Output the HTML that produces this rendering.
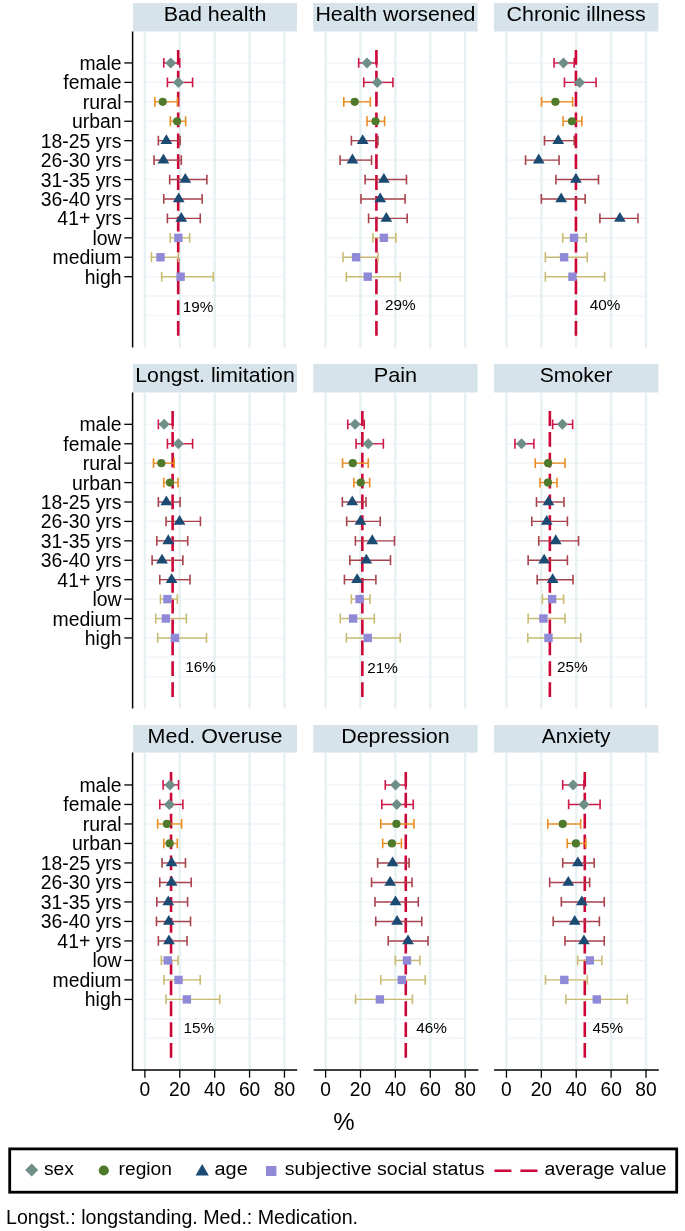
<!DOCTYPE html><html><head><meta charset="utf-8"><style>html,body{margin:0;padding:0;background:#fff;}svg{display:block;will-change:transform;}text{font-family:"Liberation Sans",sans-serif;fill:#000;}</style></head><body>
<svg width="685" height="1231" viewBox="0 0 685 1231">
<rect x="0" y="0" width="685" height="1231" fill="#fff"/>
<rect x="133" y="3.1" width="164" height="28.4" fill="#d7e3ea"/>
<text transform="translate(215 21) scale(1.053 1)" text-anchor="middle" font-size="20.4">Bad health</text>
<line x1="144.9" y1="62.96" x2="284.46" y2="62.96" stroke="#f1f6f7" stroke-width="1.6"/>
<line x1="144.9" y1="82.39" x2="284.46" y2="82.39" stroke="#f1f6f7" stroke-width="1.6"/>
<line x1="144.9" y1="101.82" x2="284.46" y2="101.82" stroke="#f1f6f7" stroke-width="1.6"/>
<line x1="144.9" y1="121.25" x2="284.46" y2="121.25" stroke="#f1f6f7" stroke-width="1.6"/>
<line x1="144.9" y1="140.68" x2="284.46" y2="140.68" stroke="#f1f6f7" stroke-width="1.6"/>
<line x1="144.9" y1="160.11" x2="284.46" y2="160.11" stroke="#f1f6f7" stroke-width="1.6"/>
<line x1="144.9" y1="179.54" x2="284.46" y2="179.54" stroke="#f1f6f7" stroke-width="1.6"/>
<line x1="144.9" y1="198.97" x2="284.46" y2="198.97" stroke="#f1f6f7" stroke-width="1.6"/>
<line x1="144.9" y1="218.4" x2="284.46" y2="218.4" stroke="#f1f6f7" stroke-width="1.6"/>
<line x1="144.9" y1="237.83" x2="284.46" y2="237.83" stroke="#f1f6f7" stroke-width="1.6"/>
<line x1="144.9" y1="257.26" x2="284.46" y2="257.26" stroke="#f1f6f7" stroke-width="1.6"/>
<line x1="144.9" y1="276.69" x2="284.46" y2="276.69" stroke="#f1f6f7" stroke-width="1.6"/>
<line x1="144.9" y1="296.12" x2="284.46" y2="296.12" stroke="#f1f6f7" stroke-width="1.6"/>
<line x1="144.9" y1="315.55" x2="284.46" y2="315.55" stroke="#f1f6f7" stroke-width="1.6"/>
<line x1="144.9" y1="31.5" x2="144.9" y2="347.6" stroke="#e7f0f2" stroke-width="2.4"/>
<line x1="179.79" y1="31.5" x2="179.79" y2="347.6" stroke="#e7f0f2" stroke-width="2.4"/>
<line x1="214.68" y1="31.5" x2="214.68" y2="347.6" stroke="#e7f0f2" stroke-width="2.4"/>
<line x1="249.57" y1="31.5" x2="249.57" y2="347.6" stroke="#e7f0f2" stroke-width="2.4"/>
<line x1="284.46" y1="31.5" x2="284.46" y2="347.6" stroke="#e7f0f2" stroke-width="2.4"/>
<line x1="178.19" y1="50" x2="178.19" y2="336" stroke="#cc0738" stroke-width="2.6" stroke-dasharray="14.8 6.05"/>
<line x1="132.6" y1="31.5" x2="132.6" y2="347.6" stroke="#000" stroke-width="1.5"/>
<line x1="124.3" y1="62.96" x2="132.6" y2="62.96" stroke="#000" stroke-width="1.3"/>
<text x="121.5" y="69.96" text-anchor="end" font-size="19.4">male</text>
<line x1="124.3" y1="82.39" x2="132.6" y2="82.39" stroke="#000" stroke-width="1.3"/>
<text x="121.5" y="89.39" text-anchor="end" font-size="19.4">female</text>
<line x1="124.3" y1="101.82" x2="132.6" y2="101.82" stroke="#000" stroke-width="1.3"/>
<text x="121.5" y="108.82" text-anchor="end" font-size="19.4">rural</text>
<line x1="124.3" y1="121.25" x2="132.6" y2="121.25" stroke="#000" stroke-width="1.3"/>
<text x="121.5" y="128.25" text-anchor="end" font-size="19.4">urban</text>
<line x1="124.3" y1="140.68" x2="132.6" y2="140.68" stroke="#000" stroke-width="1.3"/>
<text x="121.5" y="147.68" text-anchor="end" font-size="19.4">18-25 yrs</text>
<line x1="124.3" y1="160.11" x2="132.6" y2="160.11" stroke="#000" stroke-width="1.3"/>
<text x="121.5" y="167.11" text-anchor="end" font-size="19.4">26-30 yrs</text>
<line x1="124.3" y1="179.54" x2="132.6" y2="179.54" stroke="#000" stroke-width="1.3"/>
<text x="121.5" y="186.54" text-anchor="end" font-size="19.4">31-35 yrs</text>
<line x1="124.3" y1="198.97" x2="132.6" y2="198.97" stroke="#000" stroke-width="1.3"/>
<text x="121.5" y="205.97" text-anchor="end" font-size="19.4">36-40 yrs</text>
<line x1="124.3" y1="218.4" x2="132.6" y2="218.4" stroke="#000" stroke-width="1.3"/>
<text x="121.5" y="225.4" text-anchor="end" font-size="19.4">41+ yrs</text>
<line x1="124.3" y1="237.83" x2="132.6" y2="237.83" stroke="#000" stroke-width="1.3"/>
<text x="121.5" y="244.83" text-anchor="end" font-size="19.4">low</text>
<line x1="124.3" y1="257.26" x2="132.6" y2="257.26" stroke="#000" stroke-width="1.3"/>
<text x="121.5" y="264.26" text-anchor="end" font-size="19.4">medium</text>
<line x1="124.3" y1="276.69" x2="132.6" y2="276.69" stroke="#000" stroke-width="1.3"/>
<text x="121.5" y="283.69" text-anchor="end" font-size="19.4">high</text>
<path d="M163.76 62.96H179.75" stroke="#cf1747" stroke-width="1.4" fill="none"/>
<path d="M163.76 58.06V67.86M179.75 58.06V67.86" stroke="#cf1747" stroke-width="1.6" fill="none"/>
<path d="M167.41 82.39H192.61" stroke="#cf1747" stroke-width="1.4" fill="none"/>
<path d="M167.41 77.49V87.29M192.61 77.49V87.29" stroke="#cf1747" stroke-width="1.6" fill="none"/>
<path d="M154.9 101.82H177.49" stroke="#eb8c23" stroke-width="1.4" fill="none"/>
<path d="M154.9 96.92V106.72M177.49 96.92V106.72" stroke="#eb8c23" stroke-width="1.6" fill="none"/>
<path d="M170.37 121.25H185.66" stroke="#eb8c23" stroke-width="1.4" fill="none"/>
<path d="M170.37 116.35V126.15M185.66 116.35V126.15" stroke="#eb8c23" stroke-width="1.6" fill="none"/>
<path d="M158.38 140.68H180.1" stroke="#a8434d" stroke-width="1.4" fill="none"/>
<path d="M158.38 135.78V145.58M180.1 135.78V145.58" stroke="#a8434d" stroke-width="1.6" fill="none"/>
<path d="M154.03 160.11H181.31" stroke="#a8434d" stroke-width="1.4" fill="none"/>
<path d="M154.03 155.21V165.01M181.31 155.21V165.01" stroke="#a8434d" stroke-width="1.6" fill="none"/>
<path d="M169.67 179.54H206.86" stroke="#a8434d" stroke-width="1.4" fill="none"/>
<path d="M169.67 174.64V184.44M206.86 174.64V184.44" stroke="#a8434d" stroke-width="1.6" fill="none"/>
<path d="M163.76 198.97H202.16" stroke="#a8434d" stroke-width="1.4" fill="none"/>
<path d="M163.76 194.07V203.87M202.16 194.07V203.87" stroke="#a8434d" stroke-width="1.6" fill="none"/>
<path d="M167.41 218.4H200.25" stroke="#a8434d" stroke-width="1.4" fill="none"/>
<path d="M167.41 213.5V223.3M200.25 213.5V223.3" stroke="#a8434d" stroke-width="1.6" fill="none"/>
<path d="M170.19 237.83H189.65" stroke="#c9bc72" stroke-width="1.4" fill="none"/>
<path d="M170.19 232.93V242.73M189.65 232.93V242.73" stroke="#c9bc72" stroke-width="1.6" fill="none"/>
<path d="M151.43 257.26H178.36" stroke="#c9bc72" stroke-width="1.4" fill="none"/>
<path d="M151.43 252.36V262.16M178.36 252.36V262.16" stroke="#c9bc72" stroke-width="1.6" fill="none"/>
<path d="M161.68 276.69H213.28" stroke="#c9bc72" stroke-width="1.4" fill="none"/>
<path d="M161.68 271.79V281.59M213.28 271.79V281.59" stroke="#c9bc72" stroke-width="1.6" fill="none"/>
<path d="M170.72 57.46L176.22 62.96L170.72 68.46L165.22 62.96Z" fill="#6f8e88"/>
<path d="M178.36 76.89L183.86 82.39L178.36 87.89L172.86 82.39Z" fill="#6f8e88"/>
<circle cx="162.72" cy="101.82" r="4.1" fill="#4f7a2c"/>
<circle cx="177.14" cy="121.25" r="4.1" fill="#4f7a2c"/>
<path d="M166.37 134.18L172.27 143.98L160.47 143.98Z" fill="#1b4a73"/>
<path d="M163.42 153.61L169.32 163.41L157.52 163.41Z" fill="#1b4a73"/>
<path d="M185.31 173.04L191.21 182.84L179.41 182.84Z" fill="#1b4a73"/>
<path d="M178.71 192.47L184.61 202.27L172.81 202.27Z" fill="#1b4a73"/>
<path d="M181.31 211.9L187.21 221.7L175.41 221.7Z" fill="#1b4a73"/>
<rect x="174.16" y="233.63" width="8.4" height="8.4" fill="#8f89d8"/>
<rect x="156.26" y="253.06" width="8.4" height="8.4" fill="#8f89d8"/>
<rect x="176.42" y="272.49" width="8.4" height="8.4" fill="#8f89d8"/>
<text x="182.8" y="311.5" font-size="15.3">19%</text>
<rect x="313.2" y="3.1" width="164.4" height="28.4" fill="#d7e3ea"/>
<text transform="translate(395.4 21) scale(1.046 1)" text-anchor="middle" font-size="20.4">Health worsened</text>
<line x1="325.6" y1="62.96" x2="465.16" y2="62.96" stroke="#f1f6f7" stroke-width="1.6"/>
<line x1="325.6" y1="82.39" x2="465.16" y2="82.39" stroke="#f1f6f7" stroke-width="1.6"/>
<line x1="325.6" y1="101.82" x2="465.16" y2="101.82" stroke="#f1f6f7" stroke-width="1.6"/>
<line x1="325.6" y1="121.25" x2="465.16" y2="121.25" stroke="#f1f6f7" stroke-width="1.6"/>
<line x1="325.6" y1="140.68" x2="465.16" y2="140.68" stroke="#f1f6f7" stroke-width="1.6"/>
<line x1="325.6" y1="160.11" x2="465.16" y2="160.11" stroke="#f1f6f7" stroke-width="1.6"/>
<line x1="325.6" y1="179.54" x2="465.16" y2="179.54" stroke="#f1f6f7" stroke-width="1.6"/>
<line x1="325.6" y1="198.97" x2="465.16" y2="198.97" stroke="#f1f6f7" stroke-width="1.6"/>
<line x1="325.6" y1="218.4" x2="465.16" y2="218.4" stroke="#f1f6f7" stroke-width="1.6"/>
<line x1="325.6" y1="237.83" x2="465.16" y2="237.83" stroke="#f1f6f7" stroke-width="1.6"/>
<line x1="325.6" y1="257.26" x2="465.16" y2="257.26" stroke="#f1f6f7" stroke-width="1.6"/>
<line x1="325.6" y1="276.69" x2="465.16" y2="276.69" stroke="#f1f6f7" stroke-width="1.6"/>
<line x1="325.6" y1="296.12" x2="465.16" y2="296.12" stroke="#f1f6f7" stroke-width="1.6"/>
<line x1="325.6" y1="315.55" x2="465.16" y2="315.55" stroke="#f1f6f7" stroke-width="1.6"/>
<line x1="325.6" y1="31.5" x2="325.6" y2="347.6" stroke="#e7f0f2" stroke-width="2.4"/>
<line x1="360.49" y1="31.5" x2="360.49" y2="347.6" stroke="#e7f0f2" stroke-width="2.4"/>
<line x1="395.38" y1="31.5" x2="395.38" y2="347.6" stroke="#e7f0f2" stroke-width="2.4"/>
<line x1="430.27" y1="31.5" x2="430.27" y2="347.6" stroke="#e7f0f2" stroke-width="2.4"/>
<line x1="465.16" y1="31.5" x2="465.16" y2="347.6" stroke="#e7f0f2" stroke-width="2.4"/>
<line x1="376.41" y1="50" x2="376.41" y2="336" stroke="#cc0738" stroke-width="2.6" stroke-dasharray="14.8 6.05"/>
<path d="M358.69 62.96H376.59" stroke="#cf1747" stroke-width="1.4" fill="none"/>
<path d="M358.69 58.06V67.86M376.59 58.06V67.86" stroke="#cf1747" stroke-width="1.6" fill="none"/>
<path d="M363.73 82.39H392.92" stroke="#cf1747" stroke-width="1.4" fill="none"/>
<path d="M363.73 77.49V87.29M392.92 77.49V87.29" stroke="#cf1747" stroke-width="1.6" fill="none"/>
<path d="M343.75 101.82H370.33" stroke="#eb8c23" stroke-width="1.4" fill="none"/>
<path d="M343.75 96.92V106.72M370.33 96.92V106.72" stroke="#eb8c23" stroke-width="1.6" fill="none"/>
<path d="M367.03 121.25H384.58" stroke="#eb8c23" stroke-width="1.4" fill="none"/>
<path d="M367.03 116.35V126.15M384.58 116.35V126.15" stroke="#eb8c23" stroke-width="1.6" fill="none"/>
<path d="M351.39 140.68H377.98" stroke="#a8434d" stroke-width="1.4" fill="none"/>
<path d="M351.39 135.78V145.58M377.98 135.78V145.58" stroke="#a8434d" stroke-width="1.6" fill="none"/>
<path d="M340.1 160.11H371.55" stroke="#a8434d" stroke-width="1.4" fill="none"/>
<path d="M340.1 155.21V165.01M371.55 155.21V165.01" stroke="#a8434d" stroke-width="1.6" fill="none"/>
<path d="M365.12 179.54H406.47" stroke="#a8434d" stroke-width="1.4" fill="none"/>
<path d="M365.12 174.64V184.44M406.47 174.64V184.44" stroke="#a8434d" stroke-width="1.6" fill="none"/>
<path d="M360.95 198.97H405.08" stroke="#a8434d" stroke-width="1.4" fill="none"/>
<path d="M360.95 194.07V203.87M405.08 194.07V203.87" stroke="#a8434d" stroke-width="1.6" fill="none"/>
<path d="M368.59 218.4H407.17" stroke="#a8434d" stroke-width="1.4" fill="none"/>
<path d="M368.59 213.5V223.3M407.17 213.5V223.3" stroke="#a8434d" stroke-width="1.6" fill="none"/>
<path d="M372.94 237.83H395.87" stroke="#c9bc72" stroke-width="1.4" fill="none"/>
<path d="M372.94 232.93V242.73M395.87 232.93V242.73" stroke="#c9bc72" stroke-width="1.6" fill="none"/>
<path d="M343.05 257.26H377.98" stroke="#c9bc72" stroke-width="1.4" fill="none"/>
<path d="M343.05 252.36V262.16M377.98 252.36V262.16" stroke="#c9bc72" stroke-width="1.6" fill="none"/>
<path d="M346.36 276.69H400.22" stroke="#c9bc72" stroke-width="1.4" fill="none"/>
<path d="M346.36 271.79V281.59M400.22 271.79V281.59" stroke="#c9bc72" stroke-width="1.6" fill="none"/>
<path d="M367.03 57.46L372.53 62.96L367.03 68.46L361.53 62.96Z" fill="#6f8e88"/>
<path d="M377.28 76.89L382.78 82.39L377.28 87.89L371.78 82.39Z" fill="#6f8e88"/>
<circle cx="354.69" cy="101.82" r="4.1" fill="#4f7a2c"/>
<circle cx="375.54" cy="121.25" r="4.1" fill="#4f7a2c"/>
<path d="M362.69 134.18L368.59 143.98L356.79 143.98Z" fill="#1b4a73"/>
<path d="M352.44 153.61L358.34 163.41L346.54 163.41Z" fill="#1b4a73"/>
<path d="M383.88 173.04L389.78 182.84L377.99 182.84Z" fill="#1b4a73"/>
<path d="M380.24 192.47L386.14 202.27L374.34 202.27Z" fill="#1b4a73"/>
<path d="M386.32 211.9L392.22 221.7L380.42 221.7Z" fill="#1b4a73"/>
<rect x="379.69" y="233.63" width="8.4" height="8.4" fill="#8f89d8"/>
<rect x="351.88" y="253.06" width="8.4" height="8.4" fill="#8f89d8"/>
<rect x="363.53" y="272.49" width="8.4" height="8.4" fill="#8f89d8"/>
<text x="384.9" y="309.5" font-size="15.3">29%</text>
<rect x="493.9" y="3.1" width="164.5" height="28.4" fill="#d7e3ea"/>
<text transform="translate(576.15 21) scale(1.051 1)" text-anchor="middle" font-size="20.4">Chronic illness</text>
<line x1="506.45" y1="62.96" x2="646.01" y2="62.96" stroke="#f1f6f7" stroke-width="1.6"/>
<line x1="506.45" y1="82.39" x2="646.01" y2="82.39" stroke="#f1f6f7" stroke-width="1.6"/>
<line x1="506.45" y1="101.82" x2="646.01" y2="101.82" stroke="#f1f6f7" stroke-width="1.6"/>
<line x1="506.45" y1="121.25" x2="646.01" y2="121.25" stroke="#f1f6f7" stroke-width="1.6"/>
<line x1="506.45" y1="140.68" x2="646.01" y2="140.68" stroke="#f1f6f7" stroke-width="1.6"/>
<line x1="506.45" y1="160.11" x2="646.01" y2="160.11" stroke="#f1f6f7" stroke-width="1.6"/>
<line x1="506.45" y1="179.54" x2="646.01" y2="179.54" stroke="#f1f6f7" stroke-width="1.6"/>
<line x1="506.45" y1="198.97" x2="646.01" y2="198.97" stroke="#f1f6f7" stroke-width="1.6"/>
<line x1="506.45" y1="218.4" x2="646.01" y2="218.4" stroke="#f1f6f7" stroke-width="1.6"/>
<line x1="506.45" y1="237.83" x2="646.01" y2="237.83" stroke="#f1f6f7" stroke-width="1.6"/>
<line x1="506.45" y1="257.26" x2="646.01" y2="257.26" stroke="#f1f6f7" stroke-width="1.6"/>
<line x1="506.45" y1="276.69" x2="646.01" y2="276.69" stroke="#f1f6f7" stroke-width="1.6"/>
<line x1="506.45" y1="296.12" x2="646.01" y2="296.12" stroke="#f1f6f7" stroke-width="1.6"/>
<line x1="506.45" y1="315.55" x2="646.01" y2="315.55" stroke="#f1f6f7" stroke-width="1.6"/>
<line x1="506.45" y1="31.5" x2="506.45" y2="347.6" stroke="#e7f0f2" stroke-width="2.4"/>
<line x1="541.34" y1="31.5" x2="541.34" y2="347.6" stroke="#e7f0f2" stroke-width="2.4"/>
<line x1="576.23" y1="31.5" x2="576.23" y2="347.6" stroke="#e7f0f2" stroke-width="2.4"/>
<line x1="611.12" y1="31.5" x2="611.12" y2="347.6" stroke="#e7f0f2" stroke-width="2.4"/>
<line x1="646.01" y1="31.5" x2="646.01" y2="347.6" stroke="#e7f0f2" stroke-width="2.4"/>
<line x1="575.93" y1="50" x2="575.93" y2="336" stroke="#cc0738" stroke-width="2.6" stroke-dasharray="14.8 6.05"/>
<path d="M554.03 62.96H574.19" stroke="#cf1747" stroke-width="1.4" fill="none"/>
<path d="M554.03 58.06V67.86M574.19 58.06V67.86" stroke="#cf1747" stroke-width="1.6" fill="none"/>
<path d="M564.46 82.39H596.08" stroke="#cf1747" stroke-width="1.4" fill="none"/>
<path d="M564.46 77.49V87.29M596.08 77.49V87.29" stroke="#cf1747" stroke-width="1.6" fill="none"/>
<path d="M541.52 101.82H572.62" stroke="#eb8c23" stroke-width="1.4" fill="none"/>
<path d="M541.52 96.92V106.72M572.62 96.92V106.72" stroke="#eb8c23" stroke-width="1.6" fill="none"/>
<path d="M563.07 121.25H581.83" stroke="#eb8c23" stroke-width="1.4" fill="none"/>
<path d="M563.07 116.35V126.15M581.83 116.35V126.15" stroke="#eb8c23" stroke-width="1.6" fill="none"/>
<path d="M544.48 140.68H574.19" stroke="#a8434d" stroke-width="1.4" fill="none"/>
<path d="M544.48 135.78V145.58M574.19 135.78V145.58" stroke="#a8434d" stroke-width="1.6" fill="none"/>
<path d="M525.54 160.11H559.07" stroke="#a8434d" stroke-width="1.4" fill="none"/>
<path d="M525.54 155.21V165.01M559.07 155.21V165.01" stroke="#a8434d" stroke-width="1.6" fill="none"/>
<path d="M555.95 179.54H598.51" stroke="#a8434d" stroke-width="1.4" fill="none"/>
<path d="M555.95 174.64V184.44M598.51 174.64V184.44" stroke="#a8434d" stroke-width="1.6" fill="none"/>
<path d="M541.35 198.97H585.13" stroke="#a8434d" stroke-width="1.4" fill="none"/>
<path d="M541.35 194.07V203.87M585.13 194.07V203.87" stroke="#a8434d" stroke-width="1.6" fill="none"/>
<path d="M599.9 218.4H637.96" stroke="#a8434d" stroke-width="1.4" fill="none"/>
<path d="M599.9 213.5V223.3M637.96 213.5V223.3" stroke="#a8434d" stroke-width="1.6" fill="none"/>
<path d="M562.72 237.83H586.18" stroke="#c9bc72" stroke-width="1.4" fill="none"/>
<path d="M562.72 232.93V242.73M586.18 232.93V242.73" stroke="#c9bc72" stroke-width="1.6" fill="none"/>
<path d="M545.35 257.26H587.22" stroke="#c9bc72" stroke-width="1.4" fill="none"/>
<path d="M545.35 252.36V262.16M587.22 252.36V262.16" stroke="#c9bc72" stroke-width="1.6" fill="none"/>
<path d="M545.35 276.69H604.6" stroke="#c9bc72" stroke-width="1.4" fill="none"/>
<path d="M545.35 271.79V281.59M604.6 271.79V281.59" stroke="#c9bc72" stroke-width="1.6" fill="none"/>
<path d="M563.42 57.46L568.92 62.96L563.42 68.46L557.92 62.96Z" fill="#6f8e88"/>
<path d="M579.58 76.89L585.08 82.39L579.58 87.89L574.08 82.39Z" fill="#6f8e88"/>
<circle cx="555.42" cy="101.82" r="4.1" fill="#4f7a2c"/>
<circle cx="571.93" cy="121.25" r="4.1" fill="#4f7a2c"/>
<path d="M558.2 134.18L564.1 143.98L552.3 143.98Z" fill="#1b4a73"/>
<path d="M538.74 153.61L544.64 163.41L532.84 163.41Z" fill="#1b4a73"/>
<path d="M575.93 173.04L581.83 182.84L570.03 182.84Z" fill="#1b4a73"/>
<path d="M561.16 192.47L567.06 202.27L555.26 202.27Z" fill="#1b4a73"/>
<path d="M619.88 211.9L625.78 221.7L613.99 221.7Z" fill="#1b4a73"/>
<rect x="569.81" y="233.63" width="8.4" height="8.4" fill="#8f89d8"/>
<rect x="559.91" y="253.06" width="8.4" height="8.4" fill="#8f89d8"/>
<rect x="568.25" y="272.49" width="8.4" height="8.4" fill="#8f89d8"/>
<text x="589.8" y="310.4" font-size="15.3">40%</text>
<rect x="133" y="363.9" width="164" height="28.6" fill="#d7e3ea"/>
<text transform="translate(215 382.1) scale(1.042 1)" text-anchor="middle" font-size="20.4">Longst. limitation</text>
<line x1="144.9" y1="424.32" x2="284.46" y2="424.32" stroke="#f1f6f7" stroke-width="1.6"/>
<line x1="144.9" y1="443.74" x2="284.46" y2="443.74" stroke="#f1f6f7" stroke-width="1.6"/>
<line x1="144.9" y1="463.16" x2="284.46" y2="463.16" stroke="#f1f6f7" stroke-width="1.6"/>
<line x1="144.9" y1="482.58" x2="284.46" y2="482.58" stroke="#f1f6f7" stroke-width="1.6"/>
<line x1="144.9" y1="502" x2="284.46" y2="502" stroke="#f1f6f7" stroke-width="1.6"/>
<line x1="144.9" y1="521.42" x2="284.46" y2="521.42" stroke="#f1f6f7" stroke-width="1.6"/>
<line x1="144.9" y1="540.84" x2="284.46" y2="540.84" stroke="#f1f6f7" stroke-width="1.6"/>
<line x1="144.9" y1="560.26" x2="284.46" y2="560.26" stroke="#f1f6f7" stroke-width="1.6"/>
<line x1="144.9" y1="579.68" x2="284.46" y2="579.68" stroke="#f1f6f7" stroke-width="1.6"/>
<line x1="144.9" y1="599.1" x2="284.46" y2="599.1" stroke="#f1f6f7" stroke-width="1.6"/>
<line x1="144.9" y1="618.52" x2="284.46" y2="618.52" stroke="#f1f6f7" stroke-width="1.6"/>
<line x1="144.9" y1="637.94" x2="284.46" y2="637.94" stroke="#f1f6f7" stroke-width="1.6"/>
<line x1="144.9" y1="657.36" x2="284.46" y2="657.36" stroke="#f1f6f7" stroke-width="1.6"/>
<line x1="144.9" y1="676.78" x2="284.46" y2="676.78" stroke="#f1f6f7" stroke-width="1.6"/>
<line x1="144.9" y1="392.5" x2="144.9" y2="708.5" stroke="#e7f0f2" stroke-width="2.4"/>
<line x1="179.79" y1="392.5" x2="179.79" y2="708.5" stroke="#e7f0f2" stroke-width="2.4"/>
<line x1="214.68" y1="392.5" x2="214.68" y2="708.5" stroke="#e7f0f2" stroke-width="2.4"/>
<line x1="249.57" y1="392.5" x2="249.57" y2="708.5" stroke="#e7f0f2" stroke-width="2.4"/>
<line x1="284.46" y1="392.5" x2="284.46" y2="708.5" stroke="#e7f0f2" stroke-width="2.4"/>
<line x1="172.63" y1="411.1" x2="172.63" y2="697.1" stroke="#cc0738" stroke-width="2.6" stroke-dasharray="14.8 6.05"/>
<line x1="132.6" y1="392.5" x2="132.6" y2="708.5" stroke="#000" stroke-width="1.5"/>
<line x1="124.3" y1="424.32" x2="132.6" y2="424.32" stroke="#000" stroke-width="1.3"/>
<text x="121.5" y="431.32" text-anchor="end" font-size="19.4">male</text>
<line x1="124.3" y1="443.74" x2="132.6" y2="443.74" stroke="#000" stroke-width="1.3"/>
<text x="121.5" y="450.74" text-anchor="end" font-size="19.4">female</text>
<line x1="124.3" y1="463.16" x2="132.6" y2="463.16" stroke="#000" stroke-width="1.3"/>
<text x="121.5" y="470.16" text-anchor="end" font-size="19.4">rural</text>
<line x1="124.3" y1="482.58" x2="132.6" y2="482.58" stroke="#000" stroke-width="1.3"/>
<text x="121.5" y="489.58" text-anchor="end" font-size="19.4">urban</text>
<line x1="124.3" y1="502" x2="132.6" y2="502" stroke="#000" stroke-width="1.3"/>
<text x="121.5" y="509" text-anchor="end" font-size="19.4">18-25 yrs</text>
<line x1="124.3" y1="521.42" x2="132.6" y2="521.42" stroke="#000" stroke-width="1.3"/>
<text x="121.5" y="528.42" text-anchor="end" font-size="19.4">26-30 yrs</text>
<line x1="124.3" y1="540.84" x2="132.6" y2="540.84" stroke="#000" stroke-width="1.3"/>
<text x="121.5" y="547.84" text-anchor="end" font-size="19.4">31-35 yrs</text>
<line x1="124.3" y1="560.26" x2="132.6" y2="560.26" stroke="#000" stroke-width="1.3"/>
<text x="121.5" y="567.26" text-anchor="end" font-size="19.4">36-40 yrs</text>
<line x1="124.3" y1="579.68" x2="132.6" y2="579.68" stroke="#000" stroke-width="1.3"/>
<text x="121.5" y="586.68" text-anchor="end" font-size="19.4">41+ yrs</text>
<line x1="124.3" y1="599.1" x2="132.6" y2="599.1" stroke="#000" stroke-width="1.3"/>
<text x="121.5" y="606.1" text-anchor="end" font-size="19.4">low</text>
<line x1="124.3" y1="618.52" x2="132.6" y2="618.52" stroke="#000" stroke-width="1.3"/>
<text x="121.5" y="625.52" text-anchor="end" font-size="19.4">medium</text>
<line x1="124.3" y1="637.94" x2="132.6" y2="637.94" stroke="#000" stroke-width="1.3"/>
<text x="121.5" y="644.94" text-anchor="end" font-size="19.4">high</text>
<path d="M158.38 424.32H172.63" stroke="#cf1747" stroke-width="1.4" fill="none"/>
<path d="M158.38 419.42V429.22M172.63 419.42V429.22" stroke="#cf1747" stroke-width="1.6" fill="none"/>
<path d="M167.41 443.74H192.61" stroke="#cf1747" stroke-width="1.4" fill="none"/>
<path d="M167.41 438.84V448.64M192.61 438.84V448.64" stroke="#cf1747" stroke-width="1.6" fill="none"/>
<path d="M153.51 463.16H174.19" stroke="#eb8c23" stroke-width="1.4" fill="none"/>
<path d="M153.51 458.26V468.06M174.19 458.26V468.06" stroke="#eb8c23" stroke-width="1.6" fill="none"/>
<path d="M163.76 482.58H178.01" stroke="#eb8c23" stroke-width="1.4" fill="none"/>
<path d="M163.76 477.68V487.48M178.01 477.68V487.48" stroke="#eb8c23" stroke-width="1.6" fill="none"/>
<path d="M158.38 502H180.1" stroke="#a8434d" stroke-width="1.4" fill="none"/>
<path d="M158.38 497.1V506.9M180.1 497.1V506.9" stroke="#a8434d" stroke-width="1.6" fill="none"/>
<path d="M166.02 521.42H200.43" stroke="#a8434d" stroke-width="1.4" fill="none"/>
<path d="M166.02 516.52V526.32M200.43 516.52V526.32" stroke="#a8434d" stroke-width="1.6" fill="none"/>
<path d="M156.81 540.84H187.74" stroke="#a8434d" stroke-width="1.4" fill="none"/>
<path d="M156.81 535.94V545.74M187.74 535.94V545.74" stroke="#a8434d" stroke-width="1.6" fill="none"/>
<path d="M152.12 560.26H182.88" stroke="#a8434d" stroke-width="1.4" fill="none"/>
<path d="M152.12 555.36V565.16M182.88 555.36V565.16" stroke="#a8434d" stroke-width="1.6" fill="none"/>
<path d="M159.77 579.68H190" stroke="#a8434d" stroke-width="1.4" fill="none"/>
<path d="M159.77 574.78V584.58M190 574.78V584.58" stroke="#a8434d" stroke-width="1.6" fill="none"/>
<path d="M160.46 599.1H177.32" stroke="#c9bc72" stroke-width="1.4" fill="none"/>
<path d="M160.46 594.2V604M177.32 594.2V604" stroke="#c9bc72" stroke-width="1.6" fill="none"/>
<path d="M155.77 618.52H186.35" stroke="#c9bc72" stroke-width="1.4" fill="none"/>
<path d="M155.77 613.62V623.42M186.35 613.62V623.42" stroke="#c9bc72" stroke-width="1.6" fill="none"/>
<path d="M157.68 637.94H206.51" stroke="#c9bc72" stroke-width="1.4" fill="none"/>
<path d="M157.68 633.04V642.84M206.51 633.04V642.84" stroke="#c9bc72" stroke-width="1.6" fill="none"/>
<path d="M164.11 418.82L169.61 424.32L164.11 429.82L158.61 424.32Z" fill="#6f8e88"/>
<path d="M178.36 438.24L183.86 443.74L178.36 449.24L172.86 443.74Z" fill="#6f8e88"/>
<circle cx="161.33" cy="463.16" r="4.1" fill="#4f7a2c"/>
<circle cx="170.02" cy="482.58" r="4.1" fill="#4f7a2c"/>
<path d="M166.37 495.5L172.27 505.3L160.47 505.3Z" fill="#1b4a73"/>
<path d="M179.58 514.92L185.48 524.72L173.68 524.72Z" fill="#1b4a73"/>
<path d="M168.28 534.34L174.18 544.14L162.38 544.14Z" fill="#1b4a73"/>
<path d="M162.03 553.76L167.93 563.56L156.13 563.56Z" fill="#1b4a73"/>
<path d="M171.58 573.18L177.48 582.98L165.68 582.98Z" fill="#1b4a73"/>
<rect x="163.21" y="594.9" width="8.4" height="8.4" fill="#8f89d8"/>
<rect x="161.65" y="614.32" width="8.4" height="8.4" fill="#8f89d8"/>
<rect x="170.69" y="633.74" width="8.4" height="8.4" fill="#8f89d8"/>
<text x="185.2" y="672.2" font-size="15.3">16%</text>
<rect x="313.2" y="363.9" width="164.4" height="28.6" fill="#d7e3ea"/>
<text transform="translate(395.4 382.1) scale(1.063 1)" text-anchor="middle" font-size="20.4">Pain</text>
<line x1="325.6" y1="424.32" x2="465.16" y2="424.32" stroke="#f1f6f7" stroke-width="1.6"/>
<line x1="325.6" y1="443.74" x2="465.16" y2="443.74" stroke="#f1f6f7" stroke-width="1.6"/>
<line x1="325.6" y1="463.16" x2="465.16" y2="463.16" stroke="#f1f6f7" stroke-width="1.6"/>
<line x1="325.6" y1="482.58" x2="465.16" y2="482.58" stroke="#f1f6f7" stroke-width="1.6"/>
<line x1="325.6" y1="502" x2="465.16" y2="502" stroke="#f1f6f7" stroke-width="1.6"/>
<line x1="325.6" y1="521.42" x2="465.16" y2="521.42" stroke="#f1f6f7" stroke-width="1.6"/>
<line x1="325.6" y1="540.84" x2="465.16" y2="540.84" stroke="#f1f6f7" stroke-width="1.6"/>
<line x1="325.6" y1="560.26" x2="465.16" y2="560.26" stroke="#f1f6f7" stroke-width="1.6"/>
<line x1="325.6" y1="579.68" x2="465.16" y2="579.68" stroke="#f1f6f7" stroke-width="1.6"/>
<line x1="325.6" y1="599.1" x2="465.16" y2="599.1" stroke="#f1f6f7" stroke-width="1.6"/>
<line x1="325.6" y1="618.52" x2="465.16" y2="618.52" stroke="#f1f6f7" stroke-width="1.6"/>
<line x1="325.6" y1="637.94" x2="465.16" y2="637.94" stroke="#f1f6f7" stroke-width="1.6"/>
<line x1="325.6" y1="657.36" x2="465.16" y2="657.36" stroke="#f1f6f7" stroke-width="1.6"/>
<line x1="325.6" y1="676.78" x2="465.16" y2="676.78" stroke="#f1f6f7" stroke-width="1.6"/>
<line x1="325.6" y1="392.5" x2="325.6" y2="708.5" stroke="#e7f0f2" stroke-width="2.4"/>
<line x1="360.49" y1="392.5" x2="360.49" y2="708.5" stroke="#e7f0f2" stroke-width="2.4"/>
<line x1="395.38" y1="392.5" x2="395.38" y2="708.5" stroke="#e7f0f2" stroke-width="2.4"/>
<line x1="430.27" y1="392.5" x2="430.27" y2="708.5" stroke="#e7f0f2" stroke-width="2.4"/>
<line x1="465.16" y1="392.5" x2="465.16" y2="708.5" stroke="#e7f0f2" stroke-width="2.4"/>
<line x1="362.34" y1="411.1" x2="362.34" y2="697.1" stroke="#cc0738" stroke-width="2.6" stroke-dasharray="14.8 6.05"/>
<path d="M347.75 424.32H364.25" stroke="#cf1747" stroke-width="1.4" fill="none"/>
<path d="M347.75 419.42V429.22M364.25 419.42V429.22" stroke="#cf1747" stroke-width="1.6" fill="none"/>
<path d="M356.08 443.74H383.36" stroke="#cf1747" stroke-width="1.4" fill="none"/>
<path d="M356.08 438.84V448.64M383.36 438.84V448.64" stroke="#cf1747" stroke-width="1.6" fill="none"/>
<path d="M342.53 463.16H368.25" stroke="#eb8c23" stroke-width="1.4" fill="none"/>
<path d="M342.53 458.26V468.06M368.25 458.26V468.06" stroke="#eb8c23" stroke-width="1.6" fill="none"/>
<path d="M353.83 482.58H369.64" stroke="#eb8c23" stroke-width="1.4" fill="none"/>
<path d="M353.83 477.68V487.48M369.64 477.68V487.48" stroke="#eb8c23" stroke-width="1.6" fill="none"/>
<path d="M342.36 502H365.99" stroke="#a8434d" stroke-width="1.4" fill="none"/>
<path d="M342.36 497.1V506.9M365.99 497.1V506.9" stroke="#a8434d" stroke-width="1.6" fill="none"/>
<path d="M346.7 521.42H380.24" stroke="#a8434d" stroke-width="1.4" fill="none"/>
<path d="M346.7 516.52V526.32M380.24 516.52V526.32" stroke="#a8434d" stroke-width="1.6" fill="none"/>
<path d="M355.39 540.84H394.48" stroke="#a8434d" stroke-width="1.4" fill="none"/>
<path d="M355.39 535.94V545.74M394.48 535.94V545.74" stroke="#a8434d" stroke-width="1.6" fill="none"/>
<path d="M349.83 560.26H390.49" stroke="#a8434d" stroke-width="1.4" fill="none"/>
<path d="M349.83 555.36V565.16M390.49 555.36V565.16" stroke="#a8434d" stroke-width="1.6" fill="none"/>
<path d="M344.44 579.68H375.89" stroke="#a8434d" stroke-width="1.4" fill="none"/>
<path d="M344.44 574.78V584.58M375.89 574.78V584.58" stroke="#a8434d" stroke-width="1.6" fill="none"/>
<path d="M351.39 599.1H369.99" stroke="#c9bc72" stroke-width="1.4" fill="none"/>
<path d="M351.39 594.2V604M369.99 594.2V604" stroke="#c9bc72" stroke-width="1.6" fill="none"/>
<path d="M340.27 618.52H374.33" stroke="#c9bc72" stroke-width="1.4" fill="none"/>
<path d="M340.27 613.62V623.42M374.33 613.62V623.42" stroke="#c9bc72" stroke-width="1.6" fill="none"/>
<path d="M346.36 637.94H400.22" stroke="#c9bc72" stroke-width="1.4" fill="none"/>
<path d="M346.36 633.04V642.84M400.22 633.04V642.84" stroke="#c9bc72" stroke-width="1.6" fill="none"/>
<path d="M355.04 418.82L360.54 424.32L355.04 429.82L349.54 424.32Z" fill="#6f8e88"/>
<path d="M368.25 438.24L373.75 443.74L368.25 449.24L362.75 443.74Z" fill="#6f8e88"/>
<circle cx="352.78" cy="463.16" r="4.1" fill="#4f7a2c"/>
<circle cx="360.78" cy="482.58" r="4.1" fill="#4f7a2c"/>
<path d="M352.26 495.5L358.16 505.3L346.36 505.3Z" fill="#1b4a73"/>
<path d="M360.43 514.92L366.33 524.72L354.53 524.72Z" fill="#1b4a73"/>
<path d="M372.24 534.34L378.14 544.14L366.34 544.14Z" fill="#1b4a73"/>
<path d="M366.34 553.76L372.24 563.56L360.44 563.56Z" fill="#1b4a73"/>
<path d="M357.13 573.18L363.03 582.98L351.23 582.98Z" fill="#1b4a73"/>
<rect x="355.36" y="594.9" width="8.4" height="8.4" fill="#8f89d8"/>
<rect x="348.93" y="614.32" width="8.4" height="8.4" fill="#8f89d8"/>
<rect x="363.53" y="633.74" width="8.4" height="8.4" fill="#8f89d8"/>
<text x="367.3" y="673" font-size="15.3">21%</text>
<rect x="493.9" y="363.9" width="164.5" height="28.6" fill="#d7e3ea"/>
<text transform="translate(576.15 382.1) scale(1.036 1)" text-anchor="middle" font-size="20.4">Smoker</text>
<line x1="506.45" y1="424.32" x2="646.01" y2="424.32" stroke="#f1f6f7" stroke-width="1.6"/>
<line x1="506.45" y1="443.74" x2="646.01" y2="443.74" stroke="#f1f6f7" stroke-width="1.6"/>
<line x1="506.45" y1="463.16" x2="646.01" y2="463.16" stroke="#f1f6f7" stroke-width="1.6"/>
<line x1="506.45" y1="482.58" x2="646.01" y2="482.58" stroke="#f1f6f7" stroke-width="1.6"/>
<line x1="506.45" y1="502" x2="646.01" y2="502" stroke="#f1f6f7" stroke-width="1.6"/>
<line x1="506.45" y1="521.42" x2="646.01" y2="521.42" stroke="#f1f6f7" stroke-width="1.6"/>
<line x1="506.45" y1="540.84" x2="646.01" y2="540.84" stroke="#f1f6f7" stroke-width="1.6"/>
<line x1="506.45" y1="560.26" x2="646.01" y2="560.26" stroke="#f1f6f7" stroke-width="1.6"/>
<line x1="506.45" y1="579.68" x2="646.01" y2="579.68" stroke="#f1f6f7" stroke-width="1.6"/>
<line x1="506.45" y1="599.1" x2="646.01" y2="599.1" stroke="#f1f6f7" stroke-width="1.6"/>
<line x1="506.45" y1="618.52" x2="646.01" y2="618.52" stroke="#f1f6f7" stroke-width="1.6"/>
<line x1="506.45" y1="637.94" x2="646.01" y2="637.94" stroke="#f1f6f7" stroke-width="1.6"/>
<line x1="506.45" y1="657.36" x2="646.01" y2="657.36" stroke="#f1f6f7" stroke-width="1.6"/>
<line x1="506.45" y1="676.78" x2="646.01" y2="676.78" stroke="#f1f6f7" stroke-width="1.6"/>
<line x1="506.45" y1="392.5" x2="506.45" y2="708.5" stroke="#e7f0f2" stroke-width="2.4"/>
<line x1="541.34" y1="392.5" x2="541.34" y2="708.5" stroke="#e7f0f2" stroke-width="2.4"/>
<line x1="576.23" y1="392.5" x2="576.23" y2="708.5" stroke="#e7f0f2" stroke-width="2.4"/>
<line x1="611.12" y1="392.5" x2="611.12" y2="708.5" stroke="#e7f0f2" stroke-width="2.4"/>
<line x1="646.01" y1="392.5" x2="646.01" y2="708.5" stroke="#e7f0f2" stroke-width="2.4"/>
<line x1="549.86" y1="411.1" x2="549.86" y2="697.1" stroke="#cc0738" stroke-width="2.6" stroke-dasharray="14.8 6.05"/>
<path d="M552.64 424.32H572.62" stroke="#cf1747" stroke-width="1.4" fill="none"/>
<path d="M552.64 419.42V429.22M572.62 419.42V429.22" stroke="#cf1747" stroke-width="1.6" fill="none"/>
<path d="M514.94 443.74H533.88" stroke="#cf1747" stroke-width="1.4" fill="none"/>
<path d="M514.94 438.84V448.64M533.88 438.84V448.64" stroke="#cf1747" stroke-width="1.6" fill="none"/>
<path d="M535.27 463.16H564.98" stroke="#eb8c23" stroke-width="1.4" fill="none"/>
<path d="M535.27 458.26V468.06M564.98 458.26V468.06" stroke="#eb8c23" stroke-width="1.6" fill="none"/>
<path d="M539.96 482.58H556.99" stroke="#eb8c23" stroke-width="1.4" fill="none"/>
<path d="M539.96 477.68V487.48M556.99 477.68V487.48" stroke="#eb8c23" stroke-width="1.6" fill="none"/>
<path d="M536.49 502H563.94" stroke="#a8434d" stroke-width="1.4" fill="none"/>
<path d="M536.49 497.1V506.9M563.94 497.1V506.9" stroke="#a8434d" stroke-width="1.6" fill="none"/>
<path d="M531.79 521.42H567.41" stroke="#a8434d" stroke-width="1.4" fill="none"/>
<path d="M531.79 516.52V526.32M567.41 516.52V526.32" stroke="#a8434d" stroke-width="1.6" fill="none"/>
<path d="M538.74 540.84H578.53" stroke="#a8434d" stroke-width="1.4" fill="none"/>
<path d="M538.74 535.94V545.74M578.53 535.94V545.74" stroke="#a8434d" stroke-width="1.6" fill="none"/>
<path d="M528.14 560.26H567.41" stroke="#a8434d" stroke-width="1.4" fill="none"/>
<path d="M528.14 555.36V565.16M567.41 555.36V565.16" stroke="#a8434d" stroke-width="1.6" fill="none"/>
<path d="M537.18 579.68H572.97" stroke="#a8434d" stroke-width="1.4" fill="none"/>
<path d="M537.18 574.78V584.58M572.97 574.78V584.58" stroke="#a8434d" stroke-width="1.6" fill="none"/>
<path d="M542.39 599.1H563.59" stroke="#c9bc72" stroke-width="1.4" fill="none"/>
<path d="M542.39 594.2V604M563.59 594.2V604" stroke="#c9bc72" stroke-width="1.6" fill="none"/>
<path d="M528.14 618.52H564.98" stroke="#c9bc72" stroke-width="1.4" fill="none"/>
<path d="M528.14 613.62V623.42M564.98 613.62V623.42" stroke="#c9bc72" stroke-width="1.6" fill="none"/>
<path d="M527.8 637.94H580.79" stroke="#c9bc72" stroke-width="1.4" fill="none"/>
<path d="M527.8 633.04V642.84M580.79 633.04V642.84" stroke="#c9bc72" stroke-width="1.6" fill="none"/>
<path d="M562.37 418.82L567.87 424.32L562.37 429.82L556.87 424.32Z" fill="#6f8e88"/>
<path d="M521.54 438.24L527.04 443.74L521.54 449.24L516.04 443.74Z" fill="#6f8e88"/>
<circle cx="548.13" cy="463.16" r="4.1" fill="#4f7a2c"/>
<circle cx="547.95" cy="482.58" r="4.1" fill="#4f7a2c"/>
<path d="M548.47 495.5L554.37 505.3L542.57 505.3Z" fill="#1b4a73"/>
<path d="M546.74 514.92L552.64 524.72L540.84 524.72Z" fill="#1b4a73"/>
<path d="M555.77 534.34L561.67 544.14L549.87 544.14Z" fill="#1b4a73"/>
<path d="M544.13 553.76L550.03 563.56L538.23 563.56Z" fill="#1b4a73"/>
<path d="M552.64 573.18L558.54 582.98L546.74 582.98Z" fill="#1b4a73"/>
<rect x="547.92" y="594.9" width="8.4" height="8.4" fill="#8f89d8"/>
<rect x="539.24" y="614.32" width="8.4" height="8.4" fill="#8f89d8"/>
<rect x="544.27" y="633.74" width="8.4" height="8.4" fill="#8f89d8"/>
<text x="556.9" y="672.2" font-size="15.3">25%</text>
<rect x="133" y="725" width="164" height="27.6" fill="#d7e3ea"/>
<text transform="translate(215 743) scale(1.053 1)" text-anchor="middle" font-size="20.4">Med. Overuse</text>
<line x1="144.9" y1="784.96" x2="284.46" y2="784.96" stroke="#f1f6f7" stroke-width="1.6"/>
<line x1="144.9" y1="804.46" x2="284.46" y2="804.46" stroke="#f1f6f7" stroke-width="1.6"/>
<line x1="144.9" y1="823.95" x2="284.46" y2="823.95" stroke="#f1f6f7" stroke-width="1.6"/>
<line x1="144.9" y1="843.45" x2="284.46" y2="843.45" stroke="#f1f6f7" stroke-width="1.6"/>
<line x1="144.9" y1="862.94" x2="284.46" y2="862.94" stroke="#f1f6f7" stroke-width="1.6"/>
<line x1="144.9" y1="882.44" x2="284.46" y2="882.44" stroke="#f1f6f7" stroke-width="1.6"/>
<line x1="144.9" y1="901.94" x2="284.46" y2="901.94" stroke="#f1f6f7" stroke-width="1.6"/>
<line x1="144.9" y1="921.43" x2="284.46" y2="921.43" stroke="#f1f6f7" stroke-width="1.6"/>
<line x1="144.9" y1="940.93" x2="284.46" y2="940.93" stroke="#f1f6f7" stroke-width="1.6"/>
<line x1="144.9" y1="960.42" x2="284.46" y2="960.42" stroke="#f1f6f7" stroke-width="1.6"/>
<line x1="144.9" y1="979.92" x2="284.46" y2="979.92" stroke="#f1f6f7" stroke-width="1.6"/>
<line x1="144.9" y1="999.42" x2="284.46" y2="999.42" stroke="#f1f6f7" stroke-width="1.6"/>
<line x1="144.9" y1="1018.91" x2="284.46" y2="1018.91" stroke="#f1f6f7" stroke-width="1.6"/>
<line x1="144.9" y1="1038.41" x2="284.46" y2="1038.41" stroke="#f1f6f7" stroke-width="1.6"/>
<line x1="144.9" y1="752.6" x2="144.9" y2="1070" stroke="#e7f0f2" stroke-width="2.4"/>
<line x1="179.79" y1="752.6" x2="179.79" y2="1070" stroke="#e7f0f2" stroke-width="2.4"/>
<line x1="214.68" y1="752.6" x2="214.68" y2="1070" stroke="#e7f0f2" stroke-width="2.4"/>
<line x1="249.57" y1="752.6" x2="249.57" y2="1070" stroke="#e7f0f2" stroke-width="2.4"/>
<line x1="284.46" y1="752.6" x2="284.46" y2="1070" stroke="#e7f0f2" stroke-width="2.4"/>
<line x1="171.06" y1="772" x2="171.06" y2="1058" stroke="#cc0738" stroke-width="2.6" stroke-dasharray="14.8 6.05"/>
<line x1="132.6" y1="752.6" x2="132.6" y2="1070.75" stroke="#000" stroke-width="1.5"/>
<line x1="124.3" y1="784.96" x2="132.6" y2="784.96" stroke="#000" stroke-width="1.3"/>
<text x="121.5" y="791.96" text-anchor="end" font-size="19.4">male</text>
<line x1="124.3" y1="804.46" x2="132.6" y2="804.46" stroke="#000" stroke-width="1.3"/>
<text x="121.5" y="811.46" text-anchor="end" font-size="19.4">female</text>
<line x1="124.3" y1="823.95" x2="132.6" y2="823.95" stroke="#000" stroke-width="1.3"/>
<text x="121.5" y="830.95" text-anchor="end" font-size="19.4">rural</text>
<line x1="124.3" y1="843.45" x2="132.6" y2="843.45" stroke="#000" stroke-width="1.3"/>
<text x="121.5" y="850.45" text-anchor="end" font-size="19.4">urban</text>
<line x1="124.3" y1="862.94" x2="132.6" y2="862.94" stroke="#000" stroke-width="1.3"/>
<text x="121.5" y="869.94" text-anchor="end" font-size="19.4">18-25 yrs</text>
<line x1="124.3" y1="882.44" x2="132.6" y2="882.44" stroke="#000" stroke-width="1.3"/>
<text x="121.5" y="889.44" text-anchor="end" font-size="19.4">26-30 yrs</text>
<line x1="124.3" y1="901.94" x2="132.6" y2="901.94" stroke="#000" stroke-width="1.3"/>
<text x="121.5" y="908.94" text-anchor="end" font-size="19.4">31-35 yrs</text>
<line x1="124.3" y1="921.43" x2="132.6" y2="921.43" stroke="#000" stroke-width="1.3"/>
<text x="121.5" y="928.43" text-anchor="end" font-size="19.4">36-40 yrs</text>
<line x1="124.3" y1="940.93" x2="132.6" y2="940.93" stroke="#000" stroke-width="1.3"/>
<text x="121.5" y="947.93" text-anchor="end" font-size="19.4">41+ yrs</text>
<line x1="124.3" y1="960.42" x2="132.6" y2="960.42" stroke="#000" stroke-width="1.3"/>
<text x="121.5" y="967.42" text-anchor="end" font-size="19.4">low</text>
<line x1="124.3" y1="979.92" x2="132.6" y2="979.92" stroke="#000" stroke-width="1.3"/>
<text x="121.5" y="986.92" text-anchor="end" font-size="19.4">medium</text>
<line x1="124.3" y1="999.42" x2="132.6" y2="999.42" stroke="#000" stroke-width="1.3"/>
<text x="121.5" y="1006.42" text-anchor="end" font-size="19.4">high</text>
<line x1="131.85" y1="1070" x2="297.2" y2="1070" stroke="#000" stroke-width="1.5"/>
<line x1="144.9" y1="1070" x2="144.9" y2="1077.7" stroke="#000" stroke-width="1.3"/>
<text transform="translate(144.9 1095.5) scale(0.96 1)" text-anchor="middle" font-size="20.0">0</text>
<line x1="179.79" y1="1070" x2="179.79" y2="1077.7" stroke="#000" stroke-width="1.3"/>
<text transform="translate(179.79 1095.5) scale(0.96 1)" text-anchor="middle" font-size="20.0">20</text>
<line x1="214.68" y1="1070" x2="214.68" y2="1077.7" stroke="#000" stroke-width="1.3"/>
<text transform="translate(214.68 1095.5) scale(0.96 1)" text-anchor="middle" font-size="20.0">40</text>
<line x1="249.57" y1="1070" x2="249.57" y2="1077.7" stroke="#000" stroke-width="1.3"/>
<text transform="translate(249.57 1095.5) scale(0.96 1)" text-anchor="middle" font-size="20.0">60</text>
<line x1="284.46" y1="1070" x2="284.46" y2="1077.7" stroke="#000" stroke-width="1.3"/>
<text transform="translate(284.46 1095.5) scale(0.96 1)" text-anchor="middle" font-size="20.0">80</text>
<path d="M163.07 784.96H178.53" stroke="#cf1747" stroke-width="1.4" fill="none"/>
<path d="M163.07 780.06V789.86M178.53 780.06V789.86" stroke="#cf1747" stroke-width="1.6" fill="none"/>
<path d="M159.77 804.46H182.88" stroke="#cf1747" stroke-width="1.4" fill="none"/>
<path d="M159.77 799.56V809.36M182.88 799.56V809.36" stroke="#cf1747" stroke-width="1.6" fill="none"/>
<path d="M157.68 823.95H181.66" stroke="#eb8c23" stroke-width="1.4" fill="none"/>
<path d="M157.68 819.05V828.85M181.66 819.05V828.85" stroke="#eb8c23" stroke-width="1.6" fill="none"/>
<path d="M163.76 843.45H177.32" stroke="#eb8c23" stroke-width="1.4" fill="none"/>
<path d="M163.76 838.55V848.35M177.32 838.55V848.35" stroke="#eb8c23" stroke-width="1.6" fill="none"/>
<path d="M162.03 862.94H185.48" stroke="#a8434d" stroke-width="1.4" fill="none"/>
<path d="M162.03 858.04V867.84M185.48 858.04V867.84" stroke="#a8434d" stroke-width="1.6" fill="none"/>
<path d="M159.77 882.44H191.22" stroke="#a8434d" stroke-width="1.4" fill="none"/>
<path d="M159.77 877.54V887.34M191.22 877.54V887.34" stroke="#a8434d" stroke-width="1.6" fill="none"/>
<path d="M156.81 901.94H187.57" stroke="#a8434d" stroke-width="1.4" fill="none"/>
<path d="M156.81 897.04V906.84M187.57 897.04V906.84" stroke="#a8434d" stroke-width="1.6" fill="none"/>
<path d="M156.47 921.43H190.52" stroke="#a8434d" stroke-width="1.4" fill="none"/>
<path d="M156.47 916.53V926.33M190.52 916.53V926.33" stroke="#a8434d" stroke-width="1.6" fill="none"/>
<path d="M158.38 940.93H187.05" stroke="#a8434d" stroke-width="1.4" fill="none"/>
<path d="M158.38 936.03V945.83M187.05 936.03V945.83" stroke="#a8434d" stroke-width="1.6" fill="none"/>
<path d="M161.33 960.42H178.01" stroke="#c9bc72" stroke-width="1.4" fill="none"/>
<path d="M161.33 955.52V965.32M178.01 955.52V965.32" stroke="#c9bc72" stroke-width="1.6" fill="none"/>
<path d="M163.94 979.92H200.25" stroke="#c9bc72" stroke-width="1.4" fill="none"/>
<path d="M163.94 975.02V984.82M200.25 975.02V984.82" stroke="#c9bc72" stroke-width="1.6" fill="none"/>
<path d="M166.02 999.42H219.71" stroke="#c9bc72" stroke-width="1.4" fill="none"/>
<path d="M166.02 994.52V1004.32M219.71 994.52V1004.32" stroke="#c9bc72" stroke-width="1.6" fill="none"/>
<path d="M170.02 779.46L175.52 784.96L170.02 790.46L164.52 784.96Z" fill="#6f8e88"/>
<path d="M169.32 798.96L174.82 804.46L169.32 809.96L163.82 804.46Z" fill="#6f8e88"/>
<circle cx="166.89" cy="823.95" r="4.1" fill="#4f7a2c"/>
<circle cx="169.67" cy="843.45" r="4.1" fill="#4f7a2c"/>
<path d="M171.58 856.44L177.48 866.24L165.68 866.24Z" fill="#1b4a73"/>
<path d="M171.58 875.94L177.48 885.74L165.68 885.74Z" fill="#1b4a73"/>
<path d="M168.28 895.44L174.18 905.24L162.38 905.24Z" fill="#1b4a73"/>
<path d="M168.8 914.93L174.7 924.73L162.9 924.73Z" fill="#1b4a73"/>
<path d="M168.98 934.43L174.88 944.23L163.08 944.23Z" fill="#1b4a73"/>
<rect x="163.56" y="956.22" width="8.4" height="8.4" fill="#8f89d8"/>
<rect x="174.33" y="975.72" width="8.4" height="8.4" fill="#8f89d8"/>
<rect x="182.67" y="995.22" width="8.4" height="8.4" fill="#8f89d8"/>
<text x="183.5" y="1033" font-size="15.3">15%</text>
<rect x="313.2" y="725" width="164.4" height="27.6" fill="#d7e3ea"/>
<text transform="translate(395.4 743) scale(1.052 1)" text-anchor="middle" font-size="20.4">Depression</text>
<line x1="325.6" y1="784.96" x2="465.16" y2="784.96" stroke="#f1f6f7" stroke-width="1.6"/>
<line x1="325.6" y1="804.46" x2="465.16" y2="804.46" stroke="#f1f6f7" stroke-width="1.6"/>
<line x1="325.6" y1="823.95" x2="465.16" y2="823.95" stroke="#f1f6f7" stroke-width="1.6"/>
<line x1="325.6" y1="843.45" x2="465.16" y2="843.45" stroke="#f1f6f7" stroke-width="1.6"/>
<line x1="325.6" y1="862.94" x2="465.16" y2="862.94" stroke="#f1f6f7" stroke-width="1.6"/>
<line x1="325.6" y1="882.44" x2="465.16" y2="882.44" stroke="#f1f6f7" stroke-width="1.6"/>
<line x1="325.6" y1="901.94" x2="465.16" y2="901.94" stroke="#f1f6f7" stroke-width="1.6"/>
<line x1="325.6" y1="921.43" x2="465.16" y2="921.43" stroke="#f1f6f7" stroke-width="1.6"/>
<line x1="325.6" y1="940.93" x2="465.16" y2="940.93" stroke="#f1f6f7" stroke-width="1.6"/>
<line x1="325.6" y1="960.42" x2="465.16" y2="960.42" stroke="#f1f6f7" stroke-width="1.6"/>
<line x1="325.6" y1="979.92" x2="465.16" y2="979.92" stroke="#f1f6f7" stroke-width="1.6"/>
<line x1="325.6" y1="999.42" x2="465.16" y2="999.42" stroke="#f1f6f7" stroke-width="1.6"/>
<line x1="325.6" y1="1018.91" x2="465.16" y2="1018.91" stroke="#f1f6f7" stroke-width="1.6"/>
<line x1="325.6" y1="1038.41" x2="465.16" y2="1038.41" stroke="#f1f6f7" stroke-width="1.6"/>
<line x1="325.6" y1="752.6" x2="325.6" y2="1070" stroke="#e7f0f2" stroke-width="2.4"/>
<line x1="360.49" y1="752.6" x2="360.49" y2="1070" stroke="#e7f0f2" stroke-width="2.4"/>
<line x1="395.38" y1="752.6" x2="395.38" y2="1070" stroke="#e7f0f2" stroke-width="2.4"/>
<line x1="430.27" y1="752.6" x2="430.27" y2="1070" stroke="#e7f0f2" stroke-width="2.4"/>
<line x1="465.16" y1="752.6" x2="465.16" y2="1070" stroke="#e7f0f2" stroke-width="2.4"/>
<line x1="405.78" y1="772" x2="405.78" y2="1058" stroke="#cc0738" stroke-width="2.6" stroke-dasharray="14.8 6.05"/>
<line x1="313.7" y1="1070" x2="478.4" y2="1070" stroke="#000" stroke-width="1.5"/>
<line x1="325.6" y1="1070" x2="325.6" y2="1077.7" stroke="#000" stroke-width="1.3"/>
<text transform="translate(325.6 1095.5) scale(0.96 1)" text-anchor="middle" font-size="20.0">0</text>
<line x1="360.49" y1="1070" x2="360.49" y2="1077.7" stroke="#000" stroke-width="1.3"/>
<text transform="translate(360.49 1095.5) scale(0.96 1)" text-anchor="middle" font-size="20.0">20</text>
<line x1="395.38" y1="1070" x2="395.38" y2="1077.7" stroke="#000" stroke-width="1.3"/>
<text transform="translate(395.38 1095.5) scale(0.96 1)" text-anchor="middle" font-size="20.0">40</text>
<line x1="430.27" y1="1070" x2="430.27" y2="1077.7" stroke="#000" stroke-width="1.3"/>
<text transform="translate(430.27 1095.5) scale(0.96 1)" text-anchor="middle" font-size="20.0">60</text>
<line x1="465.16" y1="1070" x2="465.16" y2="1077.7" stroke="#000" stroke-width="1.3"/>
<text transform="translate(465.16 1095.5) scale(0.96 1)" text-anchor="middle" font-size="20.0">80</text>
<path d="M385.27 784.96H405.78" stroke="#cf1747" stroke-width="1.4" fill="none"/>
<path d="M385.27 780.06V789.86M405.78 780.06V789.86" stroke="#cf1747" stroke-width="1.6" fill="none"/>
<path d="M381.8 804.46H413.25" stroke="#cf1747" stroke-width="1.4" fill="none"/>
<path d="M381.8 799.56V809.36M413.25 799.56V809.36" stroke="#cf1747" stroke-width="1.6" fill="none"/>
<path d="M380.76 823.95H413.94" stroke="#eb8c23" stroke-width="1.4" fill="none"/>
<path d="M380.76 819.05V828.85M413.94 819.05V828.85" stroke="#eb8c23" stroke-width="1.6" fill="none"/>
<path d="M382.67 843.45H401.43" stroke="#eb8c23" stroke-width="1.4" fill="none"/>
<path d="M382.67 838.55V848.35M401.43 838.55V848.35" stroke="#eb8c23" stroke-width="1.6" fill="none"/>
<path d="M377.63 862.94H409.08" stroke="#a8434d" stroke-width="1.4" fill="none"/>
<path d="M377.63 858.04V867.84M409.08 858.04V867.84" stroke="#a8434d" stroke-width="1.6" fill="none"/>
<path d="M371.55 882.44H412.03" stroke="#a8434d" stroke-width="1.4" fill="none"/>
<path d="M371.55 877.54V887.34M412.03 877.54V887.34" stroke="#a8434d" stroke-width="1.6" fill="none"/>
<path d="M375.02 901.94H418.29" stroke="#a8434d" stroke-width="1.4" fill="none"/>
<path d="M375.02 897.04V906.84M418.29 897.04V906.84" stroke="#a8434d" stroke-width="1.6" fill="none"/>
<path d="M375.72 921.43H421.76" stroke="#a8434d" stroke-width="1.4" fill="none"/>
<path d="M375.72 916.53V926.33M421.76 916.53V926.33" stroke="#a8434d" stroke-width="1.6" fill="none"/>
<path d="M388.23 940.93H428.02" stroke="#a8434d" stroke-width="1.4" fill="none"/>
<path d="M388.23 936.03V945.83M428.02 936.03V945.83" stroke="#a8434d" stroke-width="1.6" fill="none"/>
<path d="M395.35 960.42H419.85" stroke="#c9bc72" stroke-width="1.4" fill="none"/>
<path d="M395.35 955.52V965.32M419.85 955.52V965.32" stroke="#c9bc72" stroke-width="1.6" fill="none"/>
<path d="M380.76 979.92H425.24" stroke="#c9bc72" stroke-width="1.4" fill="none"/>
<path d="M380.76 975.02V984.82M425.24 975.02V984.82" stroke="#c9bc72" stroke-width="1.6" fill="none"/>
<path d="M355.56 999.42H412.38" stroke="#c9bc72" stroke-width="1.4" fill="none"/>
<path d="M355.56 994.52V1004.32M412.38 994.52V1004.32" stroke="#c9bc72" stroke-width="1.6" fill="none"/>
<path d="M395.53 779.46L401.03 784.96L395.53 790.46L390.03 784.96Z" fill="#6f8e88"/>
<path d="M396.74 798.96L402.24 804.46L396.74 809.96L391.24 804.46Z" fill="#6f8e88"/>
<circle cx="396.39" cy="823.95" r="4.1" fill="#4f7a2c"/>
<circle cx="391.88" cy="843.45" r="4.1" fill="#4f7a2c"/>
<path d="M392.57 856.44L398.47 866.24L386.67 866.24Z" fill="#1b4a73"/>
<path d="M390.14 875.94L396.04 885.74L384.24 885.74Z" fill="#1b4a73"/>
<path d="M395.53 895.44L401.43 905.24L389.63 905.24Z" fill="#1b4a73"/>
<path d="M397.09 914.93L402.99 924.73L391.19 924.73Z" fill="#1b4a73"/>
<path d="M408.04 934.43L413.94 944.23L402.14 944.23Z" fill="#1b4a73"/>
<rect x="402.79" y="956.22" width="8.4" height="8.4" fill="#8f89d8"/>
<rect x="397.58" y="975.72" width="8.4" height="8.4" fill="#8f89d8"/>
<rect x="375.69" y="995.22" width="8.4" height="8.4" fill="#8f89d8"/>
<text x="416.2" y="1033" font-size="15.3">46%</text>
<rect x="493.9" y="725" width="164.5" height="27.6" fill="#d7e3ea"/>
<text transform="translate(576.15 743) scale(1.027 1)" text-anchor="middle" font-size="20.4">Anxiety</text>
<line x1="506.45" y1="784.96" x2="646.01" y2="784.96" stroke="#f1f6f7" stroke-width="1.6"/>
<line x1="506.45" y1="804.46" x2="646.01" y2="804.46" stroke="#f1f6f7" stroke-width="1.6"/>
<line x1="506.45" y1="823.95" x2="646.01" y2="823.95" stroke="#f1f6f7" stroke-width="1.6"/>
<line x1="506.45" y1="843.45" x2="646.01" y2="843.45" stroke="#f1f6f7" stroke-width="1.6"/>
<line x1="506.45" y1="862.94" x2="646.01" y2="862.94" stroke="#f1f6f7" stroke-width="1.6"/>
<line x1="506.45" y1="882.44" x2="646.01" y2="882.44" stroke="#f1f6f7" stroke-width="1.6"/>
<line x1="506.45" y1="901.94" x2="646.01" y2="901.94" stroke="#f1f6f7" stroke-width="1.6"/>
<line x1="506.45" y1="921.43" x2="646.01" y2="921.43" stroke="#f1f6f7" stroke-width="1.6"/>
<line x1="506.45" y1="940.93" x2="646.01" y2="940.93" stroke="#f1f6f7" stroke-width="1.6"/>
<line x1="506.45" y1="960.42" x2="646.01" y2="960.42" stroke="#f1f6f7" stroke-width="1.6"/>
<line x1="506.45" y1="979.92" x2="646.01" y2="979.92" stroke="#f1f6f7" stroke-width="1.6"/>
<line x1="506.45" y1="999.42" x2="646.01" y2="999.42" stroke="#f1f6f7" stroke-width="1.6"/>
<line x1="506.45" y1="1018.91" x2="646.01" y2="1018.91" stroke="#f1f6f7" stroke-width="1.6"/>
<line x1="506.45" y1="1038.41" x2="646.01" y2="1038.41" stroke="#f1f6f7" stroke-width="1.6"/>
<line x1="506.45" y1="752.6" x2="506.45" y2="1070" stroke="#e7f0f2" stroke-width="2.4"/>
<line x1="541.34" y1="752.6" x2="541.34" y2="1070" stroke="#e7f0f2" stroke-width="2.4"/>
<line x1="576.23" y1="752.6" x2="576.23" y2="1070" stroke="#e7f0f2" stroke-width="2.4"/>
<line x1="611.12" y1="752.6" x2="611.12" y2="1070" stroke="#e7f0f2" stroke-width="2.4"/>
<line x1="646.01" y1="752.6" x2="646.01" y2="1070" stroke="#e7f0f2" stroke-width="2.4"/>
<line x1="584.79" y1="772" x2="584.79" y2="1058" stroke="#cc0738" stroke-width="2.6" stroke-dasharray="14.8 6.05"/>
<line x1="494.1" y1="1070" x2="658.8" y2="1070" stroke="#000" stroke-width="1.5"/>
<line x1="506.45" y1="1070" x2="506.45" y2="1077.7" stroke="#000" stroke-width="1.3"/>
<text transform="translate(506.45 1095.5) scale(0.96 1)" text-anchor="middle" font-size="20.0">0</text>
<line x1="541.34" y1="1070" x2="541.34" y2="1077.7" stroke="#000" stroke-width="1.3"/>
<text transform="translate(541.34 1095.5) scale(0.96 1)" text-anchor="middle" font-size="20.0">20</text>
<line x1="576.23" y1="1070" x2="576.23" y2="1077.7" stroke="#000" stroke-width="1.3"/>
<text transform="translate(576.23 1095.5) scale(0.96 1)" text-anchor="middle" font-size="20.0">40</text>
<line x1="611.12" y1="1070" x2="611.12" y2="1077.7" stroke="#000" stroke-width="1.3"/>
<text transform="translate(611.12 1095.5) scale(0.96 1)" text-anchor="middle" font-size="20.0">60</text>
<line x1="646.01" y1="1070" x2="646.01" y2="1077.7" stroke="#000" stroke-width="1.3"/>
<text transform="translate(646.01 1095.5) scale(0.96 1)" text-anchor="middle" font-size="20.0">80</text>
<path d="M562.72 784.96H583.92" stroke="#cf1747" stroke-width="1.4" fill="none"/>
<path d="M562.72 780.06V789.86M583.92 780.06V789.86" stroke="#cf1747" stroke-width="1.6" fill="none"/>
<path d="M568.63 804.46H600.08" stroke="#cf1747" stroke-width="1.4" fill="none"/>
<path d="M568.63 799.56V809.36M600.08 799.56V809.36" stroke="#cf1747" stroke-width="1.6" fill="none"/>
<path d="M547.78 823.95H580.62" stroke="#eb8c23" stroke-width="1.4" fill="none"/>
<path d="M547.78 819.05V828.85M580.62 819.05V828.85" stroke="#eb8c23" stroke-width="1.6" fill="none"/>
<path d="M567.24 843.45H585.83" stroke="#eb8c23" stroke-width="1.4" fill="none"/>
<path d="M567.24 838.55V848.35M585.83 838.55V848.35" stroke="#eb8c23" stroke-width="1.6" fill="none"/>
<path d="M562.72 862.94H594.17" stroke="#a8434d" stroke-width="1.4" fill="none"/>
<path d="M562.72 858.04V867.84M594.17 858.04V867.84" stroke="#a8434d" stroke-width="1.6" fill="none"/>
<path d="M549.69 882.44H589.65" stroke="#a8434d" stroke-width="1.4" fill="none"/>
<path d="M549.69 877.54V887.34M589.65 877.54V887.34" stroke="#a8434d" stroke-width="1.6" fill="none"/>
<path d="M561.33 901.94H604.25" stroke="#a8434d" stroke-width="1.4" fill="none"/>
<path d="M561.33 897.04V906.84M604.25 897.04V906.84" stroke="#a8434d" stroke-width="1.6" fill="none"/>
<path d="M553.17 921.43H599.38" stroke="#a8434d" stroke-width="1.4" fill="none"/>
<path d="M553.17 916.53V926.33M599.38 916.53V926.33" stroke="#a8434d" stroke-width="1.6" fill="none"/>
<path d="M564.98 940.93H604.25" stroke="#a8434d" stroke-width="1.4" fill="none"/>
<path d="M564.98 936.03V945.83M604.25 936.03V945.83" stroke="#a8434d" stroke-width="1.6" fill="none"/>
<path d="M577.66 960.42H601.82" stroke="#c9bc72" stroke-width="1.4" fill="none"/>
<path d="M577.66 955.52V965.32M601.82 955.52V965.32" stroke="#c9bc72" stroke-width="1.6" fill="none"/>
<path d="M545.52 979.92H587.39" stroke="#c9bc72" stroke-width="1.4" fill="none"/>
<path d="M545.52 975.02V984.82M587.39 975.02V984.82" stroke="#c9bc72" stroke-width="1.6" fill="none"/>
<path d="M565.85 999.42H627.18" stroke="#c9bc72" stroke-width="1.4" fill="none"/>
<path d="M565.85 994.52V1004.32M627.18 994.52V1004.32" stroke="#c9bc72" stroke-width="1.6" fill="none"/>
<path d="M573.15 779.46L578.65 784.96L573.15 790.46L567.65 784.96Z" fill="#6f8e88"/>
<path d="M583.92 798.96L589.42 804.46L583.92 809.96L578.42 804.46Z" fill="#6f8e88"/>
<circle cx="562.72" cy="823.95" r="4.1" fill="#4f7a2c"/>
<circle cx="575.93" cy="843.45" r="4.1" fill="#4f7a2c"/>
<path d="M577.84 856.44L583.74 866.24L571.94 866.24Z" fill="#1b4a73"/>
<path d="M568.28 875.94L574.18 885.74L562.38 885.74Z" fill="#1b4a73"/>
<path d="M581.83 895.44L587.73 905.24L575.93 905.24Z" fill="#1b4a73"/>
<path d="M574.71 914.93L580.61 924.73L568.81 924.73Z" fill="#1b4a73"/>
<path d="M583.92 934.43L589.82 944.23L578.02 944.23Z" fill="#1b4a73"/>
<rect x="585.63" y="956.22" width="8.4" height="8.4" fill="#8f89d8"/>
<rect x="560.09" y="975.72" width="8.4" height="8.4" fill="#8f89d8"/>
<rect x="592.58" y="995.22" width="8.4" height="8.4" fill="#8f89d8"/>
<text x="592.6" y="1032.6" font-size="15.3">45%</text>
<text x="344" y="1130" text-anchor="middle" font-size="24.0">%</text>
<rect x="9.7" y="1148.9" width="667" height="43.3" fill="none" stroke="#000" stroke-width="2.8"/>
<path d="M31.7 1163.5L38.2 1170L31.7 1176.5L25.2 1170Z" fill="#6f8e88"/>
<text x="44" y="1175.2" font-size="19.2">sex</text>
<circle cx="103.8" cy="1170.5" r="5.1" fill="#4f7a2c"/>
<text x="118.6" y="1175.2" font-size="19.2">region</text>
<path d="M202.2 1164L208.8 1175.5L195.6 1175.5Z" fill="#1b4a73"/>
<text transform="translate(214.5 1175.2) scale(1.04 1)" font-size="19.2">age</text>
<rect x="266" y="1166" width="10.4" height="10" fill="#8f89d8"/>
<text transform="translate(284.8 1175.2) scale(1.017 1)" font-size="19.2">subjective social status</text>
<path d="M494.4 1170.8H511.4M520.4 1170.8H537.5" stroke="#cc0738" stroke-width="2.5"/>
<text transform="translate(544.4 1175.2) scale(1.013 1)" font-size="19.2">average value</text>
<text x="6" y="1223.6" font-size="19.3" textLength="352" lengthAdjust="spacingAndGlyphs">Longst.: longstanding. Med.: Medication.</text>
</svg></body></html>
